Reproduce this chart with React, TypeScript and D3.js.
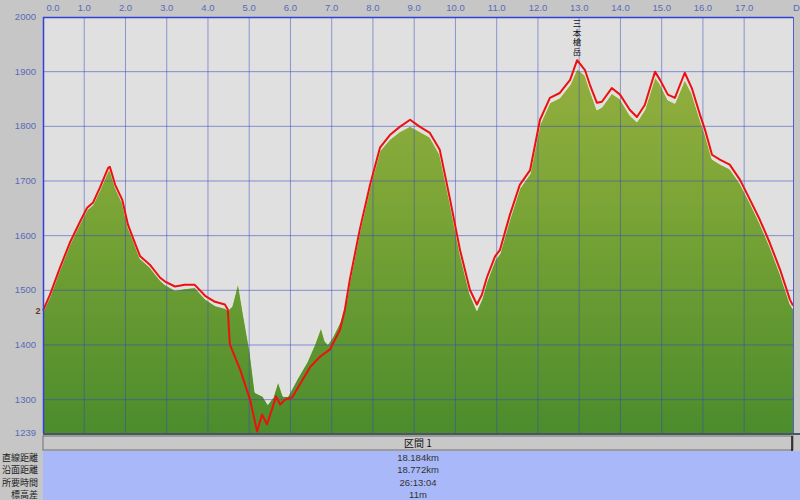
import React from "react";
import * as d3 from "d3";

const distTicks = [0, 1, 2, 3, 4, 5, 6, 7, 8, 9, 10, 11, 12, 13, 14, 15, 16, 17];
const elevTicks = [2000, 1900, 1800, 1700, 1600, 1500, 1400, 1300];
const elevMin = 1239;
const totalKm = 18.184;

const terrainKm = [0.0, 0.17, 0.41, 0.65, 0.9, 1.07, 1.21, 1.38, 1.58, 1.62, 1.75, 1.92, 2.06, 2.18, 2.35, 2.59, 2.84, 2.96, 3.2, 3.44, 3.68, 3.93, 4.17, 4.41, 4.48, 4.58, 4.73, 4.85, 5.02, 5.14, 5.33, 5.45, 5.58, 5.7, 5.82, 5.94, 6.16, 6.4, 6.59, 6.74, 6.84, 6.91, 7.03, 7.2, 7.37, 7.44, 7.68, 7.93, 8.17, 8.41, 8.65, 8.9, 9.14, 9.38, 9.62, 9.87, 10.11, 10.35, 10.52, 10.64, 10.76, 10.96, 11.08, 11.32, 11.56, 11.81, 12.05, 12.29, 12.53, 12.78, 12.95, 13.14, 13.26, 13.43, 13.55, 13.79, 13.99, 14.23, 14.4, 14.59, 14.84, 14.96, 15.15, 15.32, 15.56, 15.73, 15.93, 16.05, 16.22, 16.41, 16.65, 16.9, 17.14, 17.38, 17.62, 17.87, 18.11, 18.184];
const terrainElev = [1460, 1488, 1537, 1583, 1622, 1647, 1656, 1683, 1718, 1720, 1688, 1660, 1615, 1592, 1558, 1542, 1518, 1510, 1500, 1503, 1505, 1484, 1472, 1467, 1463, 1470, 1514, 1459, 1386, 1313, 1306, 1291, 1304, 1333, 1306, 1306, 1337, 1368, 1401, 1432, 1406, 1401, 1415, 1441, 1483, 1515, 1606, 1688, 1755, 1776, 1790, 1800, 1790, 1780, 1748, 1658, 1566, 1493, 1463, 1483, 1515, 1555, 1567, 1630, 1686, 1713, 1803, 1843, 1852, 1876, 1905, 1893, 1866, 1830, 1835, 1860, 1850, 1820, 1808, 1830, 1890, 1877, 1848, 1842, 1885, 1860, 1812, 1785, 1740, 1731, 1722, 1695, 1660, 1622, 1580, 1530, 1475, 1466];

const trackKm = [0.0, 0.17, 0.41, 0.65, 0.9, 1.07, 1.21, 1.38, 1.58, 1.62, 1.75, 1.92, 2.06, 2.18, 2.35, 2.59, 2.84, 2.96, 3.2, 3.44, 3.68, 3.93, 4.17, 4.41, 4.48, 4.53, 4.78, 5.02, 5.19, 5.31, 5.43, 5.55, 5.65, 5.75, 5.87, 6.04, 6.23, 6.47, 6.72, 6.96, 7.2, 7.32, 7.44, 7.68, 7.93, 8.17, 8.41, 8.65, 8.9, 9.14, 9.38, 9.62, 9.87, 10.11, 10.35, 10.52, 10.64, 10.76, 10.96, 11.08, 11.32, 11.56, 11.81, 12.05, 12.29, 12.53, 12.78, 12.95, 13.14, 13.26, 13.43, 13.55, 13.79, 13.99, 14.23, 14.4, 14.59, 14.84, 14.96, 15.15, 15.32, 15.56, 15.73, 15.93, 16.05, 16.22, 16.41, 16.65, 16.9, 17.14, 17.38, 17.62, 17.87, 18.11, 18.184];
const trackElev = [1463, 1492, 1541, 1587, 1626, 1651, 1660, 1688, 1724, 1726, 1693, 1666, 1620, 1596, 1563, 1547, 1523, 1516, 1507, 1510, 1510, 1490, 1479, 1474, 1465, 1401, 1355, 1300, 1242, 1273, 1255, 1282, 1306, 1291, 1300, 1304, 1328, 1359, 1379, 1392, 1428, 1465, 1520, 1611, 1693, 1761, 1784, 1799, 1812, 1799, 1788, 1757, 1666, 1574, 1501, 1474, 1492, 1523, 1562, 1574, 1638, 1693, 1720, 1812, 1852, 1861, 1885, 1921, 1903, 1876, 1843, 1845, 1870, 1858, 1830, 1817, 1839, 1900, 1885, 1858, 1852, 1898, 1870, 1821, 1794, 1748, 1739, 1730, 1702, 1666, 1629, 1587, 1538, 1483, 1472];

const peakName = "三本槍岳";
const peakKm = 12.95;
const sectionTitle = "区間 1";
const rowLabels = ["直線距離", "沿面距離", "所要時間", "標高差"];
const rowValues = ["18.184km", "18.772km", "26:13:04", "11m"];

const L = 43, R = 793, T = 17, B = 433;

export default function App() {
  const x = d3.scaleLinear().domain([0, totalKm]).range([L, R]);
  const y = d3.scaleLinear().domain([elevMin, 2000]).range([B, T]);

  const terrain = terrainKm.map((k, i) => [k, terrainElev[i]] as [number, number]);
  const track = trackKm.map((k, i) => [k, trackElev[i]] as [number, number]);

  const area = d3.area<[number, number]>().x(d => x(d[0])).y0(B).y1(d => y(d[1]));
  const line = d3.line<[number, number]>().x(d => x(d[0])).y(d => y(d[1]));

  const labelFont = "'Liberation Sans', 'DejaVu Sans', sans-serif";
  const cjkFont = "'Noto Sans CJK JP', sans-serif";
  const tickColor = "#5a6ab8";

  return (
    <svg width={800} height={500} style={{ position: "absolute", left: 0, top: 0, display: "block" }}>
      <defs>
        <linearGradient id="fillG" gradientUnits="userSpaceOnUse" x1="0" y1={T} x2="0" y2={B}>
          <stop offset="0" stopColor="#9cb242" />
          <stop offset="0.45" stopColor="#7ba536" />
          <stop offset="1" stopColor="#4c8c2c" />
        </linearGradient>
      </defs>
      <rect x={0} y={0} width={800} height={500} fill="#c6c6c6" />
      <rect x={L} y={T} width={R - L} height={B - T} fill="#e0e0e0" />

      <path d={area(terrain) || ""} fill="url(#fillG)" />
      <path d={line(terrain) || ""} fill="none" stroke="#eef0dc" strokeWidth={1} opacity={0.8} />

      {elevTicks.filter(v => v !== 2000).map(v => (
        <line key={"h" + v} x1={L} x2={R} y1={y(v)} y2={y(v)} stroke="#3848c0" strokeOpacity={0.55} strokeWidth={1} />
      ))}
      {distTicks.filter(v => v !== 0).map(v => (
        <line key={"v" + v} x1={x(v)} x2={x(v)} y1={T} y2={B} stroke="#3848c0" strokeOpacity={0.5} strokeWidth={1} />
      ))}

      <path d={line(track) || ""} fill="none" stroke="#ee1010" strokeWidth={2} strokeLinejoin="round" />

      <line x1={L} x2={R} y1={T + 0.5} y2={T + 0.5} stroke="#3040d8" strokeWidth={1.5} />
      <line x1={L + 0.5} x2={L + 0.5} y1={T} y2={B} stroke="#3040d8" strokeWidth={1.5} />
      <line x1={R + 0.5} x2={R + 0.5} y1={T} y2={B} stroke="#5060c8" strokeWidth={1} />

      {distTicks.map(v => (
        <text key={"xt" + v} x={v === 0 ? x(v) + 10 : x(v)} y={11} fontSize={9.5} fontFamily={labelFont} fill={tickColor} textAnchor="middle">
          {v.toFixed(1)}
        </text>
      ))}
      <text x={793} y={11} fontSize={9.5} fontFamily={labelFont} fill={tickColor}>D</text>

      {elevTicks.map(v => (
        <text key={"yt" + v} x={36} y={y(v) + 3} fontSize={9.5} fontFamily={labelFont} fill={tickColor} textAnchor="end">
          {v}
        </text>
      ))}
      <text x={36} y={B + 3} fontSize={9.5} fontFamily={labelFont} fill={tickColor} textAnchor="end">{elevMin}</text>

      <text x={L - 5} y={y(trackElev[0]) + 3} fontSize={9} fontWeight="bold" fontFamily={labelFont} fill="#6a3a18" textAnchor="middle">2</text>

      <text x={x(peakKm)} y={19} fontSize={8.5} fontFamily={cjkFont} fill="#111" style={{ writingMode: "vertical-rl" }} letterSpacing={1}>{peakName}</text>

      <line x1={L} x2={800} y1={B + 1} y2={B + 1} stroke="#4a5660" strokeWidth={2} />
      <rect x={L} y={436} width={R - L} height={14} fill="#c8c8c8" stroke="#707070" strokeWidth={1} />
      <line x1={792} x2={792} y1={436} y2={451} stroke="#111" strokeWidth={1.5} />
      <text x={418} y={447} fontSize={10} fontFamily={cjkFont} fill="#111" textAnchor="middle">{sectionTitle}</text>

      <rect x={L} y={451} width={800 - L} height={49} fill="#a9b8f8" />
      {rowLabels.map((lab, i) => (
        <text key={"rl" + i} x={38} y={461 + i * 12.3} fontSize={9} fontFamily={cjkFont} fill="#222" textAnchor="end">{lab}</text>
      ))}
      {rowValues.map((val, i) => (
        <text key={"rv" + i} x={418} y={461 + i * 12.3} fontSize={9.5} fontFamily={labelFont} fill="#333" textAnchor="middle">{val}</text>
      ))}
    </svg>
  );
}
